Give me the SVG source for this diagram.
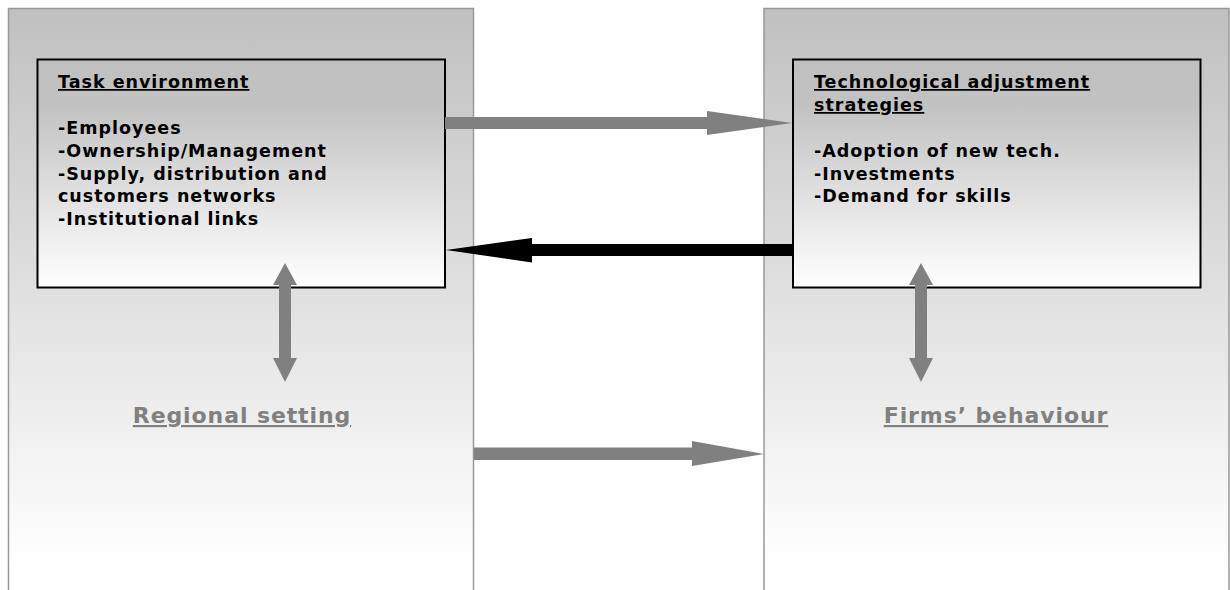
<svg xmlns="http://www.w3.org/2000/svg" width="1230" height="590" viewBox="0 0 1230 590">
<style>
.panel{stroke:#999;stroke-width:1.5}
.box{stroke:#000;stroke-width:2}
.t{font-family:"DejaVu Sans","Verdana",sans-serif;font-weight:bold;font-size:17.5px;letter-spacing:1px;fill:#000}
.u{text-decoration:underline}
.lbl{font-family:"DejaVu Sans","Verdana",sans-serif;font-weight:bold;font-size:22px;letter-spacing:0.9px;fill:#808080;text-decoration:underline;text-anchor:middle}
.gray{fill:#808080}
.black{fill:#000}
</style>
<defs>
<linearGradient id="gOuter" gradientUnits="userSpaceOnUse" x1="0" y1="8" x2="0" y2="565">
<stop offset="0" stop-color="#c0c0c0"/>
<stop offset="1" stop-color="#ffffff"/>
</linearGradient>
<linearGradient id="gInner" x1="0" y1="0" x2="0" y2="1">
<stop offset="0" stop-color="#c0c0c0"/>
<stop offset="0.2" stop-color="#c2c2c2"/>
<stop offset="1" stop-color="#ffffff"/>
</linearGradient>
</defs>
<rect width="1230" height="590" fill="#fff"/>
<g id="regional-setting">
<rect class="panel" x="8.5" y="8.5" width="465" height="590" fill="url(#gOuter)"/>
<text class="lbl" x="242" y="423">Regional setting</text>
</g>
<g id="firms-behaviour">
<rect class="panel" x="764" y="8.5" width="465" height="590" fill="url(#gOuter)"/>
<text class="lbl" x="996" y="423">Firms’ behaviour</text>
</g>
<g id="task-environment">
<rect class="box" x="37.5" y="59.5" width="407.5" height="228" fill="url(#gInner)"/>
<text class="t" x="58" y="88"><tspan class="u">Task environment</tspan>
<tspan x="58" y="134">-Employees</tspan>
<tspan x="58" y="157">-Ownership/Management</tspan>
<tspan x="58" y="179.5">-Supply, distribution and</tspan>
<tspan x="58" y="202">customers networks</tspan>
<tspan x="58" y="225">-Institutional links</tspan></text>
</g>
<g id="tech-strategies">
<rect class="box" x="793" y="59.5" width="407.5" height="228" fill="url(#gInner)"/>
<text class="t" x="814" y="88"><tspan class="u">Technological adjustment</tspan>
<tspan class="u" x="814" y="111">strategies</tspan>
<tspan x="814" y="157">-Adoption of new tech.</tspan>
<tspan x="814" y="179.5">-Investments</tspan>
<tspan x="814" y="202">-Demand for skills</tspan></text>
</g>
<g id="connectors">
<polygon class="gray" points="445,117 707,117 707,111 792,123 707,135 707,129 445,129"/>
<polygon class="black" points="792,244 532,244 532,238 446,250 532,262.5 532,256 792,256"/>
<polygon class="gray" points="474,447.5 692,447.5 692,441 764,454 692,466 692,460 474,460"/>
<polygon class="gray" points="285,263 297,285 291,285 291,358 297,358 285,382 273,358 279,358 279,285 273,285"/>
<polygon class="gray" points="921,263 933,285 927,285 927,358 933,358 921,382 909,358 915,358 915,285 909,285"/>
</g>
</svg>
